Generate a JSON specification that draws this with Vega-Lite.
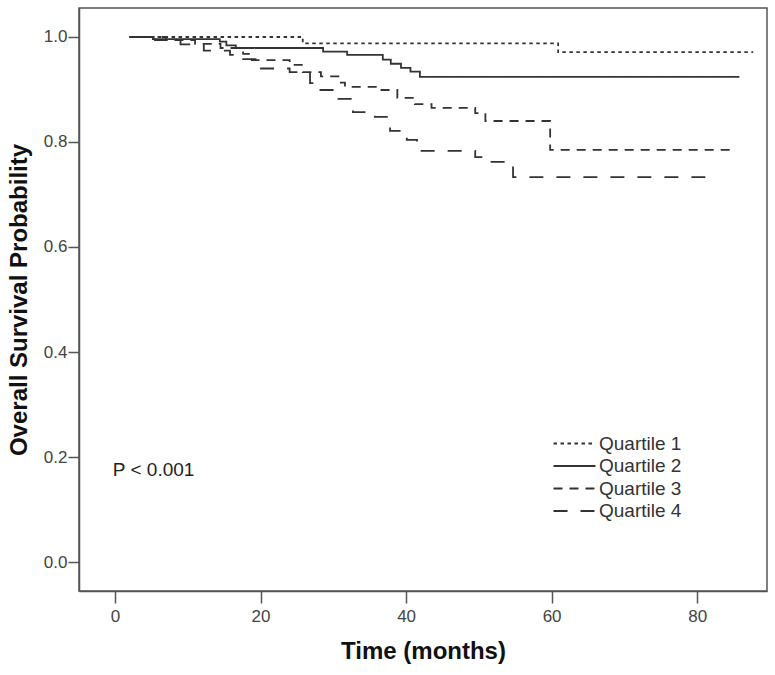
{
  "$schema": "https://vega.github.io/schema/vega-lite/v6.json",
  "width": 688,
  "height": 583,
  "autosize": "none",
  "padding": {"left": 79, "top": 8, "right": 8, "bottom": 84},
  "background": "white",
  "config": {
    "view": {"stroke": "#555", "strokeWidth": 1.5},
    "font": "Liberation Sans",
    "axis": {
      "grid": false,
      "domainColor": "#555",
      "domainWidth": 1.5,
      "tickColor": "#555",
      "tickWidth": 1.5,
      "labelColor": "#444",
      "labelFont": "Liberation Sans",
      "labelFontSize": 17,
      "titleFont": "Liberation Sans",
      "titleFontSize": 24,
      "titleFontWeight": "bold",
      "titleColor": "#111"
    }
  },
  "datasets": {
    "km": [
      {"group": "Quartile 1", "time": 2.0, "surv": 1.0},
      {"group": "Quartile 1", "time": 25.8, "surv": 0.988},
      {"group": "Quartile 1", "time": 60.9, "surv": 0.971},
      {"group": "Quartile 1", "time": 87.7, "surv": 0.971},

      {"group": "Quartile 2", "time": 2.0, "surv": 1.0},
      {"group": "Quartile 2", "time": 5.2, "surv": 0.996},
      {"group": "Quartile 2", "time": 14.4, "surv": 0.991},
      {"group": "Quartile 2", "time": 15.3, "surv": 0.984},
      {"group": "Quartile 2", "time": 16.6, "surv": 0.979},
      {"group": "Quartile 2", "time": 28.6, "surv": 0.972},
      {"group": "Quartile 2", "time": 31.9, "surv": 0.966},
      {"group": "Quartile 2", "time": 36.8, "surv": 0.957},
      {"group": "Quartile 2", "time": 37.9, "surv": 0.949},
      {"group": "Quartile 2", "time": 39.3, "surv": 0.941},
      {"group": "Quartile 2", "time": 40.6, "surv": 0.934},
      {"group": "Quartile 2", "time": 41.9, "surv": 0.924},
      {"group": "Quartile 2", "time": 85.8, "surv": 0.924},

      {"group": "Quartile 3", "time": 2.0, "surv": 1.0},
      {"group": "Quartile 3", "time": 7.0, "surv": 0.994},
      {"group": "Quartile 3", "time": 11.0, "surv": 0.987},
      {"group": "Quartile 3", "time": 14.5, "surv": 0.979},
      {"group": "Quartile 3", "time": 17.6, "surv": 0.968},
      {"group": "Quartile 3", "time": 18.8, "surv": 0.956},
      {"group": "Quartile 3", "time": 24.0, "surv": 0.947},
      {"group": "Quartile 3", "time": 25.8, "surv": 0.933},
      {"group": "Quartile 3", "time": 28.3, "surv": 0.925},
      {"group": "Quartile 3", "time": 30.7, "surv": 0.913},
      {"group": "Quartile 3", "time": 31.6, "surv": 0.905},
      {"group": "Quartile 3", "time": 36.4, "surv": 0.899},
      {"group": "Quartile 3", "time": 38.8, "surv": 0.884},
      {"group": "Quartile 3", "time": 41.2, "surv": 0.872},
      {"group": "Quartile 3", "time": 43.5, "surv": 0.865},
      {"group": "Quartile 3", "time": 49.5, "surv": 0.855},
      {"group": "Quartile 3", "time": 50.9, "surv": 0.84},
      {"group": "Quartile 3", "time": 59.8, "surv": 0.785},
      {"group": "Quartile 3", "time": 85.2, "surv": 0.785},

      {"group": "Quartile 4", "time": 2.0, "surv": 1.0},
      {"group": "Quartile 4", "time": 5.5, "surv": 0.994},
      {"group": "Quartile 4", "time": 9.0, "surv": 0.986},
      {"group": "Quartile 4", "time": 12.2, "surv": 0.974},
      {"group": "Quartile 4", "time": 15.8, "surv": 0.966},
      {"group": "Quartile 4", "time": 17.6, "surv": 0.958},
      {"group": "Quartile 4", "time": 19.3, "surv": 0.94},
      {"group": "Quartile 4", "time": 24.0, "surv": 0.933},
      {"group": "Quartile 4", "time": 26.8, "surv": 0.912},
      {"group": "Quartile 4", "time": 28.0, "surv": 0.899},
      {"group": "Quartile 4", "time": 30.7, "surv": 0.882},
      {"group": "Quartile 4", "time": 32.7, "surv": 0.857},
      {"group": "Quartile 4", "time": 35.7, "surv": 0.848},
      {"group": "Quartile 4", "time": 37.8, "surv": 0.821},
      {"group": "Quartile 4", "time": 40.1, "surv": 0.804},
      {"group": "Quartile 4", "time": 41.5, "surv": 0.783},
      {"group": "Quartile 4", "time": 49.5, "surv": 0.771},
      {"group": "Quartile 4", "time": 51.5, "surv": 0.762},
      {"group": "Quartile 4", "time": 54.7, "surv": 0.733},
      {"group": "Quartile 4", "time": 81.4, "surv": 0.733}
    ],
    "note": [
      {"time": -0.3, "surv": 0.175, "label": "P < 0.001"}
    ]
  },
  "layer": [
    {
      "data": {"name": "km"},
      "mark": {"type": "line", "interpolate": "step-after", "color": "#333", "strokeWidth": 1.8},
      "encoding": {
        "x": {
          "field": "time", "type": "quantitative",
          "scale": {"domain": [-4.95, 89.6], "nice": false, "zero": false},
          "axis": {"title": "Time (months)", "values": [0, 20, 40, 60, 80], "tickSize": 12, "labelPadding": 5, "titlePadding": 15}
        },
        "y": {
          "field": "surv", "type": "quantitative",
          "scale": {"domain": [-0.0552, 1.0552], "nice": false, "zero": false},
          "axis": {"title": "Overall Survival Probability", "values": [0, 0.2, 0.4, 0.6, 0.8, 1.0], "format": ".1f", "tickSize": 11, "labelPadding": 1, "titlePadding": 12}
        },
        "strokeDash": {
          "field": "group", "type": "nominal",
          "scale": {
            "domain": ["Quartile 1", "Quartile 2", "Quartile 3", "Quartile 4"],
            "range": [[3.5, 3.5], [1, 0], [9, 7], [14, 13]]
          },
          "legend": {
            "title": null,
            "orient": "none",
            "legendX": 484,
            "legendY": 424,
            "symbolType": "M-2,0H2",
            "symbolSize": 441,
            "symbolStrokeColor": "#333",
            "symbolStrokeWidth": 1.8,
            "labelFont": "Liberation Sans",
            "labelFontSize": 19,
            "labelColor": "#333",
            "labelOffset": 13,
            "rowPadding": 0.5
          }
        }
      }
    },
    {
      "data": {"name": "note"},
      "mark": {"type": "text", "align": "left", "baseline": "middle", "fontSize": 19, "font": "Liberation Sans", "color": "#222"},
      "encoding": {
        "x": {"field": "time", "type": "quantitative"},
        "y": {"field": "surv", "type": "quantitative"},
        "text": {"field": "label", "type": "nominal"}
      }
    }
  ]
}
